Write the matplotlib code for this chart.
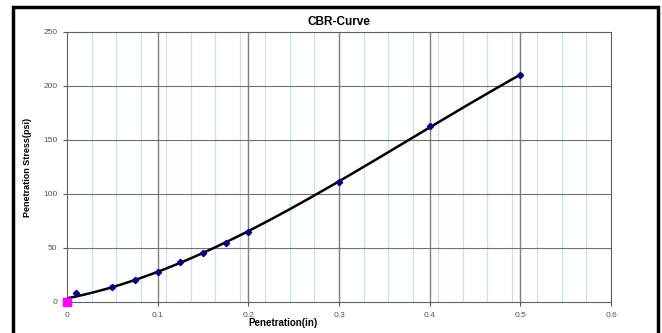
import numpy as np
import matplotlib
matplotlib.use("Agg")
import matplotlib.pyplot as plt
from matplotlib.patches import Rectangle

plt.rcParams['font.family'] = ['Liberation Sans', 'DejaVu Sans']

# data
penetration = [0.01, 0.05, 0.075, 0.1, 0.125, 0.15, 0.175, 0.2, 0.3, 0.4, 0.5]
stress = [8.6, 14.0, 20.0, 28.0, 37.5, 45.5, 55.0, 64.5, 111.0, 163.0, 210.0]
origin_x = [0.0]
origin_y = [0.0]

x_ticks = [0, 0.1, 0.2, 0.3, 0.4, 0.5, 0.6]
y_ticks = [0, 50, 100, 150, 200, 250]

fig = plt.figure(figsize=(6.62, 3.33), dpi=100)
ax = fig.add_axes([67/662, 1 - 302/333, (611-67)/662, (302-32)/333])

# outer frame
fig.patches.append(Rectangle((13/662, -0.05), (658-13)/662, 1.05 - 7/333,
                             transform=fig.transFigure, fill=False,
                             edgecolor='black', linewidth=2.5, zorder=10))

# grid lines
minor = np.arange(1, 22) * 0.6 / 22
for m in minor:
    ax.axvline(m, color='#c8e0fb', lw=0.9, zorder=0)
for t in x_ticks[1:-1]:
    ax.axvline(t, color='#808080', lw=1.0, zorder=0.5)
for t in y_ticks[1:-1]:
    ax.axhline(t, color='#707070', lw=0.8, zorder=0.5)

# polynomial trendline through origin + test points
coef = np.polyfit(origin_x + penetration, origin_y + stress, 3)
xs = np.linspace(0, 0.5, 200)
ax.plot(xs, np.polyval(coef, xs), color='black', lw=1.8, zorder=2)

ax.plot(penetration, stress, linestyle='none', marker='D', markersize=3.2,
        color='#000080', zorder=3)
ax.plot(origin_x, origin_y, linestyle='none', marker='s', markersize=6,
        color='#ff00ff', clip_on=False, zorder=4)

ax.set_xlim(0, 0.6)
ax.set_ylim(0, 250)
ax.set_xticks(x_ticks)
ax.set_xticklabels(['0', '0.1', '0.2', '0.3', '0.4', '0.5', '0.6'])
ax.set_yticks(y_ticks)
ax.tick_params(axis='both', labelsize=6, labelcolor='#555555', color='#555555',
               length=3, width=0.8, direction='out', pad=4)
for s in ax.spines.values():
    s.set_color('#606060')
    s.set_linewidth(0.8)

ax.set_title('CBR-Curve', fontsize=8.5, fontweight='bold', pad=5)
ax.set_xlabel('Penetration(in)', fontsize=7, fontweight='bold')
ax.xaxis.set_label_coords((283-67)/544, -0.06)
ax.set_ylabel('Penetration Stress(psi)', fontsize=6.5, fontweight='bold')
ax.yaxis.set_label_coords(-(67-32)/544, 0.5)

fig.savefig('out.png', dpi=100)
